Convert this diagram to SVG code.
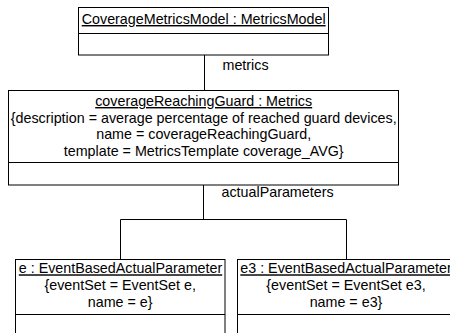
<svg xmlns="http://www.w3.org/2000/svg" width="450" height="333" viewBox="0 0 450 333">
<style>
.box{fill:#fff;stroke:#000;stroke-width:1}
.ln{fill:none;stroke:#000;stroke-width:1}
text{font-family:"Liberation Sans",Arial,sans-serif;font-size:14.3px;fill:#000}
.c{text-anchor:middle}
.u{text-decoration:underline}
</style>
<rect width="450" height="333" fill="#fff"/>
<g id="connectors">
<line class="ln" x1="204.5" y1="55" x2="204.5" y2="90"/>
<text x="222.5" y="69.5">metrics</text>
<polyline class="ln" points="203.5,185 203.5,219.5"/>
<polyline class="ln" points="120.5,259 120.5,219.5 346.5,219.5 346.5,259"/>
<text x="221.5" y="197">actualParameters</text>
</g>
<g id="CoverageMetricsModel">
<rect class="box" x="78.5" y="7.5" width="250" height="47.5"/>
<line class="ln" x1="78.5" y1="33.5" x2="328.5" y2="33.5"/>
<text class="c u" x="203.7" y="24">CoverageMetricsModel : MetricsModel</text>
</g>
<g id="coverageReachingGuard">
<rect class="box" x="8.5" y="90.5" width="390" height="94.5"/>
<line class="ln" x1="8.5" y1="162.5" x2="398.5" y2="162.5"/>
<text class="c u" x="203.7" y="106">coverageReachingGuard : Metrics</text>
<text class="c" x="203.7" y="122.7">{description = average percentage of reached guard devices,</text>
<text class="c" x="203.7" y="139.4">name = coverageReachingGuard,</text>
<text class="c" x="203.7" y="156">template = MetricsTemplate coverage_AVG}</text>
</g>
<g id="e">
<rect class="box" x="15.5" y="259.5" width="209.5" height="90"/>
<line class="ln" x1="15.5" y1="314.5" x2="225" y2="314.5"/>
<text class="c u" x="120.5" y="273.3">e : EventBasedActualParameter</text>
<text class="c" x="120.2" y="290">{eventSet = EventSet e,</text>
<text class="c" x="120.2" y="306.7">name = e}</text>
</g>
<g id="e3">
<rect class="box" x="237.5" y="259.5" width="217" height="90"/>
<line class="ln" x1="237.5" y1="314.5" x2="454.5" y2="314.5"/>
<text class="c u" x="346" y="273.3">e3 : EventBasedActualParameter</text>
<text class="c" x="346" y="290">{eventSet = EventSet e3,</text>
<text class="c" x="346" y="306.7">name = e3}</text>
</g>
</svg>
